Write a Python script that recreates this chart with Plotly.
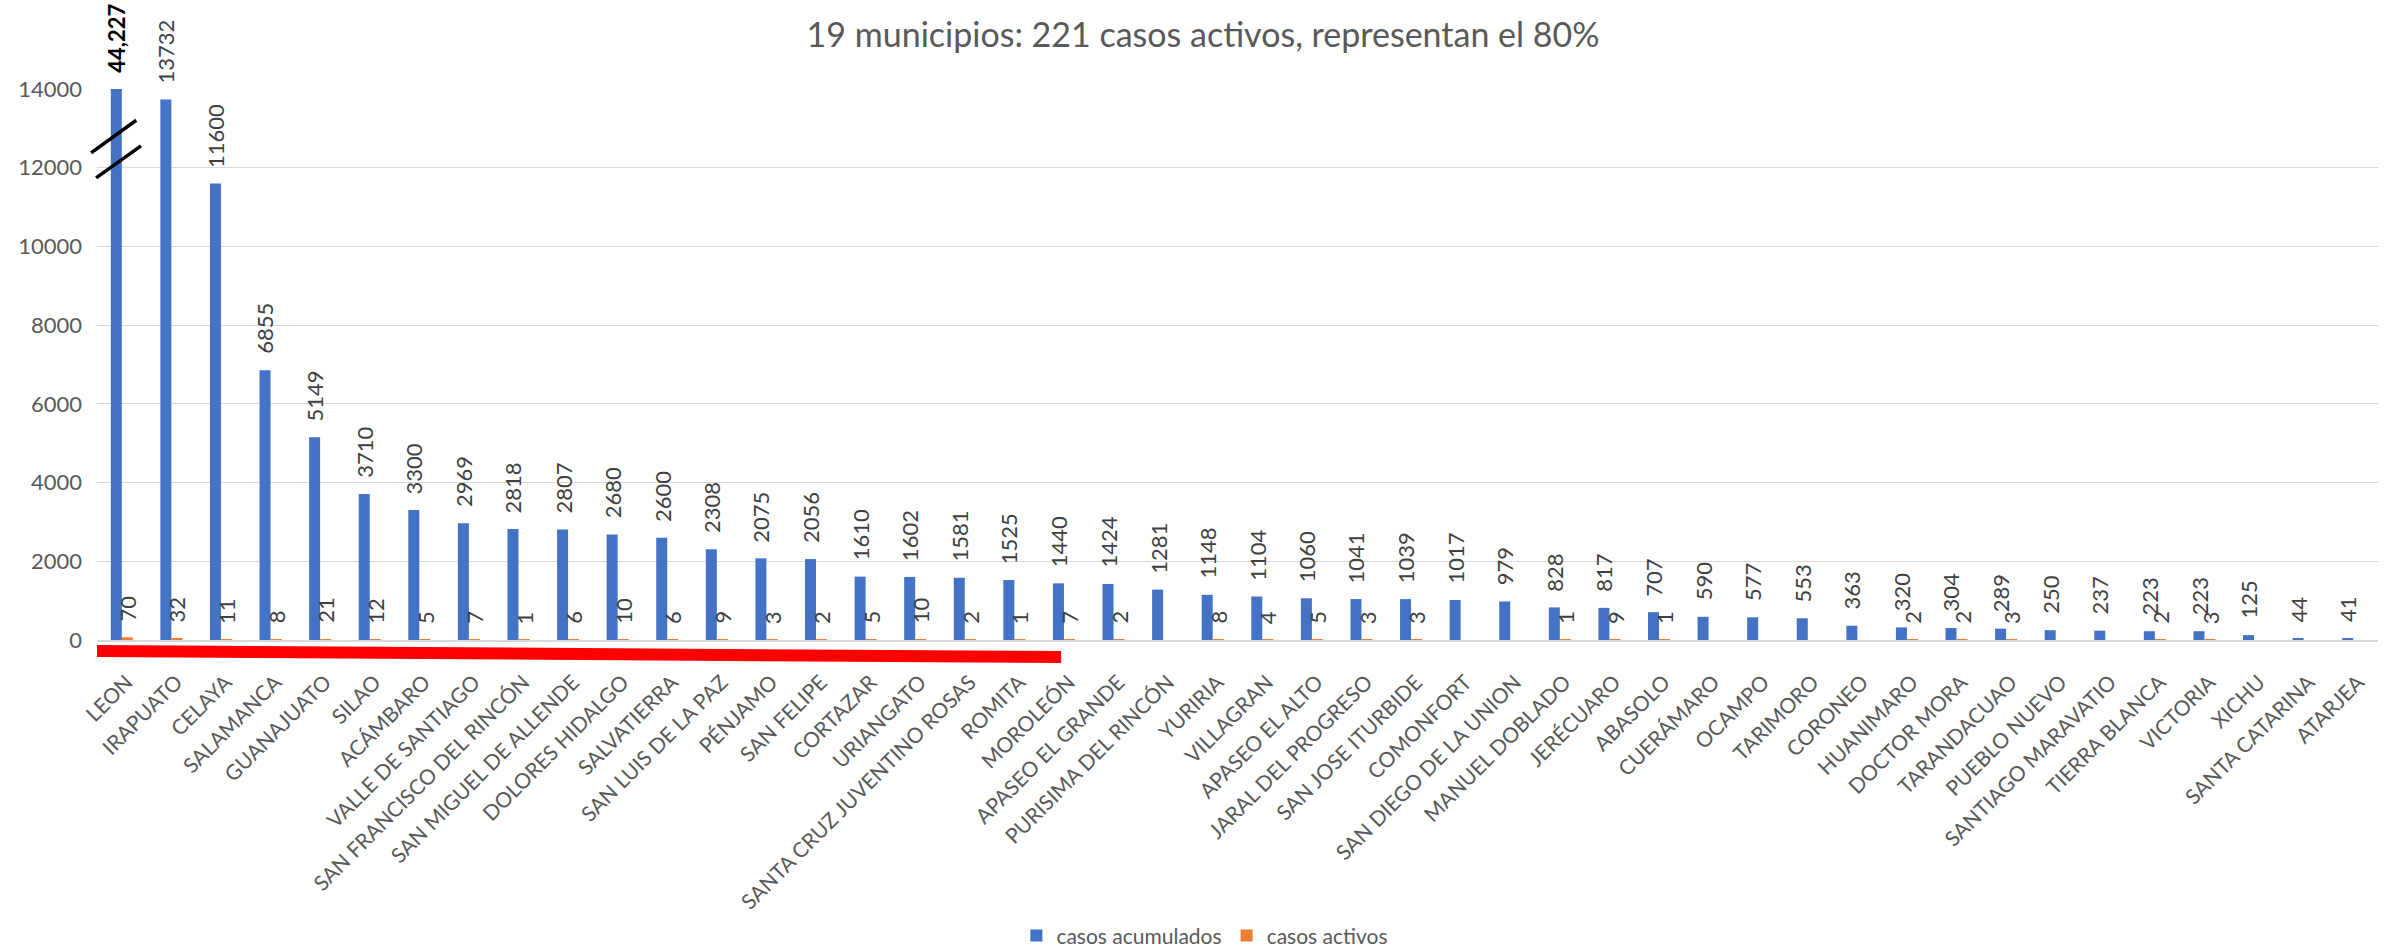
import plotly.graph_objects as go

municipios = [
    "LEON", "IRAPUATO", "CELAYA", "SALAMANCA", "GUANAJUATO", "SILAO", "ACÁMBARO",
    "VALLE DE SANTIAGO", "SAN FRANCISCO DEL RINCÓN", "SAN MIGUEL DE ALLENDE",
    "DOLORES HIDALGO", "SALVATIERRA", "SAN LUIS DE LA PAZ", "PÉNJAMO", "SAN FELIPE",
    "CORTAZAR", "URIANGATO", "SANTA CRUZ JUVENTINO ROSAS", "ROMITA", "MOROLEÓN",
    "APASEO EL GRANDE", "PURISIMA DEL RINCÓN", "YURIRIA", "VILLAGRAN", "APASEO EL ALTO",
    "JARAL DEL PROGRESO", "SAN JOSE ITURBIDE", "COMONFORT", "SAN DIEGO DE LA UNION",
    "MANUEL DOBLADO", "JERÉCUARO", "ABASOLO", "CUERÁMARO", "OCAMPO", "TARIMORO",
    "CORONEO", "HUANIMARO", "DOCTOR MORA", "TARANDACUAO", "PUEBLO NUEVO",
    "SANTIAGO MARAVATIO", "TIERRA BLANCA", "VICTORIA", "XICHU", "SANTA CATARINA", "ATARJEA",
]

casos_acumulados = [
    44227, 13732, 11600, 6855, 5149, 3710, 3300, 2969, 2818, 2807, 2680, 2600, 2308,
    2075, 2056, 1610, 1602, 1581, 1525, 1440, 1424, 1281, 1148, 1104, 1060, 1041,
    1039, 1017, 979, 828, 817, 707, 590, 577, 553, 363, 320, 304, 289, 250, 237,
    223, 223, 125, 44, 41,
]

casos_activos = [
    70, 32, 11, 8, 21, 12, 5, 7, 1, 6, 10, 6, 9, 3, 2, 5, 10, 2, 1, 7, 2, None, 8,
    4, 5, 3, 3, None, None, 1, 9, 1, None, None, None, None, 2, 2, 3, None, None,
    2, 3, None, None, None,
]

y_ticks = [0, 2000, 4000, 6000, 8000, 10000, 12000, 14000]
titulo = "19 municipios: 221 casos activos, representan el 80%"

Y_MAX = 14000
BARGAP = 0.556
W = (1 - BARGAP) / 2  # width of one bar, in category units

BLUE = "#4472C4"
ORANGE = "#ED7D31"
GRID = "#D9D9D9"
AXIS_TXT = "#595959"
LABEL_TXT = "#404040"
FONT = "Lato"

fig = go.Figure()
fig.add_bar(x=municipios, y=casos_acumulados, name="casos acumulados",
            marker=dict(color=BLUE, line=dict(width=0)))
fig.add_bar(x=municipios, y=casos_activos, name="casos activos",
            marker=dict(color=ORANGE, line=dict(width=0)))

# data labels (rotated), placed with the chart's own axes
for i, v in enumerate(casos_acumulados):
    clipped = v > Y_MAX
    fig.add_annotation(
        x=i - W / 2, y=min(v, Y_MAX), xref="x", yref="y",
        text=f"<b>{v:,}</b>" if clipped else str(v),
        textangle=-90, showarrow=False, xanchor="center", yanchor="bottom",
        yshift=15, borderpad=0,
        font=dict(family=FONT, size=22, color="#000000" if clipped else LABEL_TXT),
    )
for i, v in enumerate(casos_activos):
    if v is None:
        continue
    fig.add_annotation(
        x=i + W / 2, y=v, xref="x", yref="y", text=str(v),
        textangle=-90, showarrow=False, xanchor="center", yanchor="bottom",
        yshift=15, borderpad=0,
        font=dict(family=FONT, size=22, color=LABEL_TXT),
    )

# axis-break marks on the clipped LEON bar
for (x0, y0, x1, y1) in [(-0.0026, 0.884, 0.0172, 0.9433), (-0.0004, 0.8386, 0.0193, 0.8967)]:
    fig.add_shape(type="line", xref="paper", yref="paper", x0=x0, y0=y0, x1=x1, y1=y1,
                  line=dict(color="#000000", width=3.5), layer="above")

# red highlight line under the first 19 municipalities
fig.add_shape(type="line", xref="paper", yref="paper", x0=0.0, y0=-0.020, x1=0.4226, y1=-0.031,
              line=dict(color="#FF0000", width=12), layer="above")

fig.update_layout(
    width=2387, height=949,
    margin=dict(l=97, r=9, t=89, b=309, pad=0, autoexpand=False),
    paper_bgcolor="white", plot_bgcolor="white",
    barmode="group", bargap=BARGAP, bargroupgap=0,
    font=dict(family=FONT, color=AXIS_TXT),
    showlegend=True,
    title=dict(text=titulo, x=0.504, xanchor="center", xref="container",
               y=1 - 35 / 949, yanchor="middle", yref="container",
               font=dict(family=FONT, size=34, color=AXIS_TXT)),
    legend=dict(orientation="h", x=0.4857, xanchor="center", y=-0.537, yanchor="middle",
                font=dict(family=FONT, size=21, color=AXIS_TXT), itemwidth=30,
                bgcolor="rgba(0,0,0,0)"),
    xaxis=dict(type="category", tickangle=-45, ticks="", showgrid=False, automargin=False,
               showline=True, linecolor=GRID, linewidth=1.5,
               ticklabelstandoff=20, ticklabelshift=5,
               tickfont=dict(family=FONT, size=21, color=AXIS_TXT)),
    yaxis=dict(range=[0, Y_MAX], tickvals=y_ticks, tickformat="d", showgrid=True,
               automargin=False,
               gridcolor=GRID, gridwidth=1.3, zeroline=False, showline=False, ticks="",
               ticklabelstandoff=14,
               tickfont=dict(family=FONT, size=22, color=AXIS_TXT)),
)

fig.write_html("out.html", config={"displayModeBar": False},
               post_script="document.body.style.margin='0';document.body.style.overflow='hidden';")
